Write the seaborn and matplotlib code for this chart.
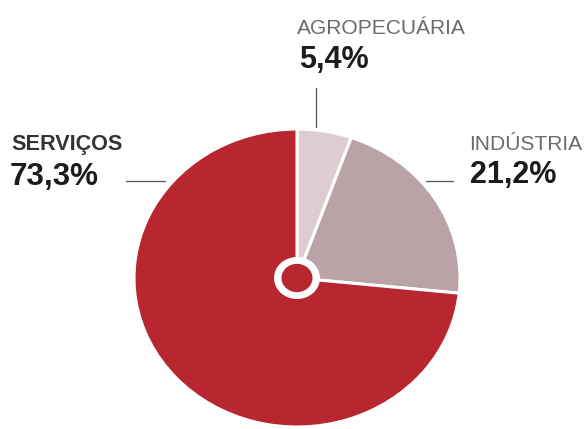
import matplotlib
matplotlib.use("Agg")
import matplotlib.pyplot as plt
from matplotlib.patches import Circle
from matplotlib.lines import Line2D
import seaborn as sns

categories = ["AGROPECUÁRIA", "INDÚSTRIA", "SERVIÇOS"]
values = [5.4, 21.2, 73.3]
pct_labels = ["5,4%", "21,2%", "73,3%"]
colors = ["#ddcdd0", "#b9a3a6", "#b8262f"]

sns.set_theme(style="white")
plt.rcParams["font.family"] = ["Liberation Sans", "DejaVu Sans"]

W, H = 585, 429
fig = plt.figure(figsize=(W / 100, H / 100), dpi=100)
ax = fig.add_axes([0, 0, 1, 1])

cx, cy = 297, 278      # pie centre (px, from top)
rx, ry = 163, 149      # horizontal / vertical radius (px)

ax.pie(values, colors=colors, startangle=90, counterclock=False,
       wedgeprops=dict(edgecolor="white", linewidth=2.2))
ax.set_aspect("auto")
ax.set_xlim(-cx / rx, (W - cx) / rx)
ax.set_ylim(-(H - cy) / ry, cy / ry)
ax.add_patch(Circle((0, 0), 23 / rx, facecolor="white", edgecolor="none", zorder=5))
ax.add_patch(Circle((0, 0), 15.5 / rx, facecolor=colors[2], edgecolor="none", zorder=6))
ax.axis("off")


def fx(x):
    return x / W


def fy(y):
    return 1 - y / H


name_color = "#6b6b6b"
num_color = "#1c1c1c"

# AGROPECUÁRIA
fig.text(fx(297), fy(34), categories[0], fontsize=15.1, color=name_color,
         ha="left", va="baseline")
fig.text(fx(299), fy(68.3), pct_labels[0], fontsize=22, fontweight="bold",
         color=num_color, ha="left", va="baseline")
# INDÚSTRIA
fig.text(fx(469), fy(150), categories[1], fontsize=15.1, color=name_color,
         ha="left", va="baseline")
fig.text(fx(470), fy(183.5), pct_labels[1], fontsize=22, fontweight="bold",
         color=num_color, ha="left", va="baseline")
# SERVIÇOS
fig.text(fx(11), fy(150), categories[2], fontsize=15.6, fontweight="bold",
         color="#333333", ha="left", va="baseline")
fig.text(fx(10), fy(185), pct_labels[2], fontsize=22.6, fontweight="bold",
         color=num_color, ha="left", va="baseline")

line_kw = dict(color="#555555", linewidth=0.9, transform=fig.transFigure)
fig.add_artist(Line2D([fx(316), fx(316)], [fy(88), fy(127)], **line_kw))
fig.add_artist(Line2D([fx(126), fx(165)], [fy(181), fy(181)], **line_kw))
fig.add_artist(Line2D([fx(426), fx(453)], [fy(181), fy(181)], **line_kw))

fig.savefig("out.png", dpi=100, facecolor="white")
